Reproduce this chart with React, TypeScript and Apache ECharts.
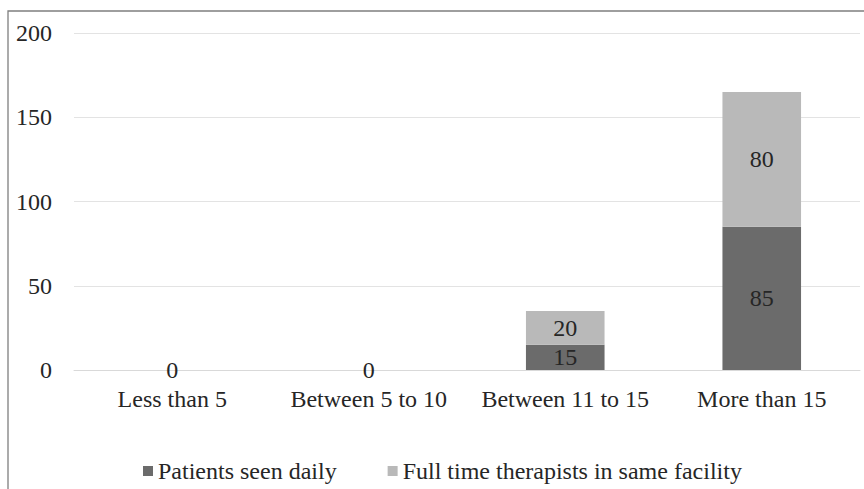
import React, { useEffect, useRef } from "react";
import * as echarts from "echarts";

// Practice size buckets
const categories = ["Less than 5", "Between 5 to 10", "Between 11 to 15", "More than 15"];
// Stacked series values
const patientsSeenDaily = [0, 0, 15, 85];
const fullTimeTherapists = [0, 0, 20, 80];
// Value axis ticks
const yTicks = [0, 50, 100, 150, 200];

const FONT = "Liberation Serif";
const TEXT = "#262626";
const DARK = "#6b6b6b";
const LIGHT = "#b9b9b9";

export default function App() {
  const ref = useRef<HTMLDivElement>(null);

  useEffect(() => {
    document.body.style.margin = "0";
    if (!ref.current) return;
    const chart = echarts.init(ref.current, null, { renderer: "svg" });

    const labelStyle = {
      show: true,
      position: "inside" as const,
      color: TEXT,
      fontFamily: FONT,
      fontSize: 24,
    };

    chart.setOption({
      animation: false,
      textStyle: { fontFamily: FONT, color: TEXT },
      graphic: [
        {
          type: "rect",
          shape: { x: 8, y: 11, width: 900, height: 520 },
          style: { fill: "none", stroke: "#7f7f7f", lineWidth: 1.3 },
          silent: true,
        },
      ],
      grid: { left: 74, right: 4, top: 33, bottom: 119, containLabel: false },
      legend: {
        left: 138,
        top: 454,
        itemWidth: 10,
        itemHeight: 10,
        itemGap: 51,
        icon: "rect",
        textStyle: { fontFamily: FONT, fontSize: 24, color: TEXT },
        data: ["Patients seen daily", "Full time therapists in same facility"],
      },
      xAxis: {
        type: "category",
        data: categories,
        axisLine: { show: true, lineStyle: { color: "#d9d9d9", width: 1 } },
        axisTick: { show: false },
        axisLabel: {
          interval: 0,
          hideOverlap: false,
          color: TEXT,
          fontFamily: FONT,
          fontSize: 24,
          margin: 17,
        },
      },
      yAxis: {
        type: "value",
        min: yTicks[0],
        max: yTicks[yTicks.length - 1],
        interval: yTicks[1] - yTicks[0],
        axisLine: { show: false },
        axisTick: { show: false },
        splitLine: { lineStyle: { color: "#e3e3e3", width: 1 } },
        axisLabel: { color: TEXT, fontFamily: FONT, fontSize: 24, margin: 22 },
      },
      series: [
        {
          name: "Patients seen daily",
          type: "bar",
          stack: "total",
          barWidth: "40%",
          itemStyle: { color: DARK },
          label: labelStyle,
          data: patientsSeenDaily,
        },
        {
          name: "Full time therapists in same facility",
          type: "bar",
          stack: "total",
          barWidth: "40%",
          itemStyle: { color: LIGHT },
          label: labelStyle,
          // a zero here would sit on the same spot as the other series' zero label
          data: fullTimeTherapists.map((v) =>
            v === 0 ? { value: v, label: { show: false } } : v
          ),
        },
      ],
    });

    return () => chart.dispose();
  }, []);

  return <div ref={ref} style={{ width: 864, height: 489 }} />;
}
